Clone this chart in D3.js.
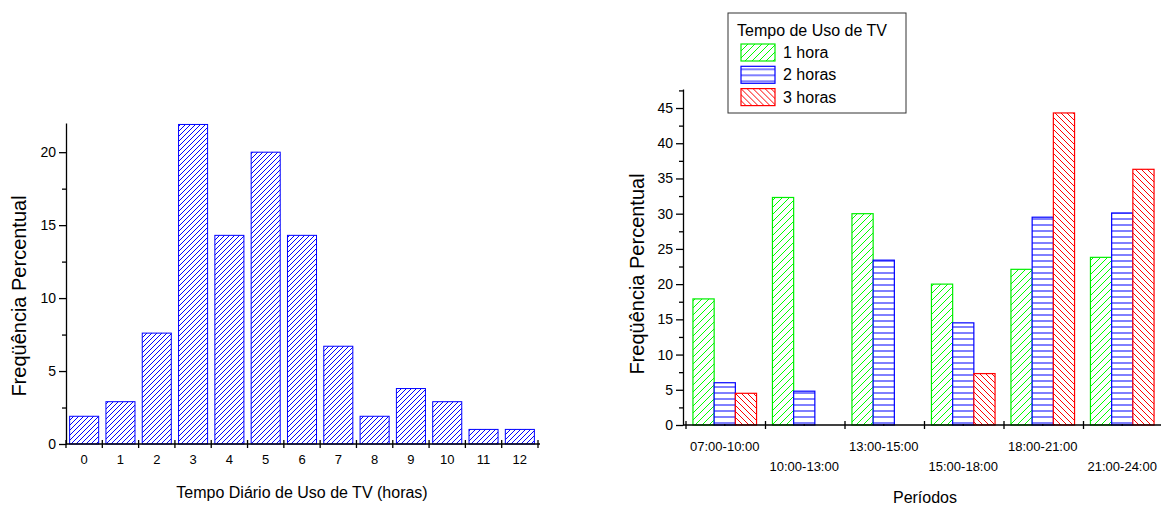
<!DOCTYPE html>
<html>
<head>
<meta charset="utf-8">
<script src="https://cdn.jsdelivr.net/npm/d3@7"></script>
<style>
  body { margin: 0; background: #fff; }
  text { font-family: "Liberation Sans", Arial, sans-serif; fill: #000; }
  .axis path, .axis line { stroke: #000; stroke-width: 1.3; }
</style>
</head>
<body>
<div id="chart"></div>
<script>
// left chart: daily TV hours histogram
var hourCats = ["0","1","2","3","4","5","6","7","8","9","10","11","12"];
var hourPct  = [1.9, 2.9, 7.6, 21.9, 14.3, 20.0, 14.3, 6.7, 1.9, 3.8, 2.9, 1.0, 1.0];
var leftTicks = [0, 5, 10, 15, 20];
var leftMinor = [2.5, 7.5, 12.5, 17.5];

// right chart: periods grouped by hours of use
var periods = ["07:00-10:00","10:00-13:00","13:00-15:00","15:00-18:00","18:00-21:00","21:00-24:00"];
var seriesNames = ["1 hora","2 horas","3 horas"];
var hora1 = [17.9, 32.3, 30.0, 20.0, 22.1, 23.8];
var hora2 = [6.0, 4.8, 23.4, 14.5, 29.5, 30.1];
var hora3 = [4.5, 0, 0, 7.3, 44.3, 36.3];
var rightTicks = [0, 5, 10, 15, 20, 25, 30, 35, 40, 45];
var rightMinor = [2.5, 7.5, 12.5, 17.5, 22.5, 27.5, 32.5, 37.5, 42.5, 47.5];

var W = 1161, H = 508;
var svg = d3.select("#chart").append("svg")
  .attr("width", W).attr("height", H);

// hatch patterns
var defs = svg.append("defs");
function hatch(id, color, size, d) {
  var p = defs.append("pattern")
    .attr("id", id)
    .attr("patternUnits", "userSpaceOnUse")
    .attr("width", size).attr("height", size);
  p.append("rect").attr("width", size).attr("height", size).attr("fill", "#fff");
  p.append("path").attr("d", d)
    .attr("stroke", color).attr("stroke-width", 1).attr("fill", "none");
}
hatch("h-blue", "#0000ff", 5, "M-1,1 l2,-2 M0,5 l5,-5 M4,6 l2,-2");
hatch("h-green", "#00ff00", 7, "M-1,1 l2,-2 M0,7 l7,-7 M6,8 l2,-2");
hatch("h-hor", "#0000ff", 6, "M0,3 h6");
hatch("h-red", "#ff0000", 6, "M-1,5 l2,2 M0,0 l6,6 M5,-1 l2,2");

var seriesColor = ["#00ee00", "#0000ff", "#ff0000"];
var seriesFill = ["url(#h-green)", "url(#h-hor)", "url(#h-red)"];

// ---------- left chart ----------
var xL = d3.scaleBand()
  .domain(hourCats)
  .range([66, 538])
  .paddingInner(0.2)
  .paddingOuter(0.1);

var yL = d3.scaleLinear()
  .domain([0, 22])
  .range([444, 123]);

svg.selectAll(".barL")
  .data(hourPct)
  .enter().append("rect")
  .attr("class", "barL")
  .attr("x", function(d, i) { return xL(hourCats[i]); })
  .attr("width", xL.bandwidth())
  .attr("y", function(d) { return yL(d); })
  .attr("height", function(d) { return yL(0) - yL(d); })
  .attr("fill", "url(#h-blue)")
  .attr("stroke", "#0000ff")
  .attr("stroke-width", 1);

svg.append("g")
  .attr("class", "axis")
  .attr("transform", "translate(66,0)")
  .call(d3.axisLeft(yL).tickValues(leftTicks).tickSize(7).tickSizeOuter(0).tickPadding(3))
  .selectAll("text").style("font-size", "14px");

svg.append("g")
  .attr("class", "axis")
  .attr("transform", "translate(66,0)")
  .call(d3.axisLeft(yL).tickValues(leftMinor).tickSize(4).tickSizeOuter(0).tickFormat(""))
  .select(".domain").remove();

var gxL = svg.append("g")
  .attr("class", "axis")
  .attr("transform", "translate(0,444)")
  .call(d3.axisBottom(xL).tickSize(0).tickSizeOuter(0).tickPadding(11));
gxL.selectAll("text").style("font-size", "13px");
gxL.select(".domain").attr("d", "M66,0H540");

// ticks between the bars
gxL.selectAll(".bound")
  .data(d3.range(hourCats.length + 1))
  .enter().append("line")
  .attr("class", "bound")
  .attr("x1", function(i) { return xL.range()[0] + i * xL.step(); })
  .attr("x2", function(i) { return xL.range()[0] + i * xL.step(); })
  .attr("y1", -4).attr("y2", 4);

svg.append("text")
  .attr("x", 302).attr("y", 498)
  .style("text-anchor", "middle")
  .style("font-size", "16px")
  .text("Tempo Diário de Uso de TV (horas)");

svg.append("text")
  .attr("transform", "translate(26,296) rotate(-90)")
  .style("text-anchor", "middle")
  .style("font-size", "20px")
  .text("Freqüência Percentual");

// ---------- right chart ----------
var xR = d3.scaleBand()
  .domain(periods)
  .range([685, 1162])
  .paddingInner(0.2)
  .paddingOuter(0.1);

var xS = d3.scaleBand()
  .domain(seriesNames)
  .range([0, xR.bandwidth()]);

var yR = d3.scaleLinear()
  .domain([0, 47.7])
  .range([425, 89]);

var rows = [];
[hora1, hora2, hora3].forEach(function(vals, s) {
  vals.forEach(function(v, i) {
    if (v > 0) rows.push({ period: periods[i], series: s, value: v });
  });
});

svg.selectAll(".barR")
  .data(rows)
  .enter().append("rect")
  .attr("class", "barR")
  .attr("x", function(d) { return xR(d.period) + xS(seriesNames[d.series]); })
  .attr("width", xS.bandwidth())
  .attr("y", function(d) { return yR(d.value); })
  .attr("height", function(d) { return yR(0) - yR(d.value); })
  .attr("fill", function(d) { return seriesFill[d.series]; })
  .attr("stroke", function(d) { return seriesColor[d.series]; })
  .attr("stroke-width", 1.2);

svg.append("g")
  .attr("class", "axis")
  .attr("transform", "translate(683,0)")
  .call(d3.axisLeft(yR).tickValues(rightTicks).tickSize(7).tickSizeOuter(0).tickPadding(3))
  .selectAll("text").style("font-size", "14px");

svg.append("g")
  .attr("class", "axis")
  .attr("transform", "translate(683,0)")
  .call(d3.axisLeft(yR).tickValues(rightMinor).tickSize(4).tickSizeOuter(0).tickFormat(""))
  .select(".domain").remove();

var gxR = svg.append("g")
  .attr("class", "axis")
  .attr("transform", "translate(0,425)")
  .call(d3.axisBottom(xR).tickSize(2).tickSizeOuter(0).tickPadding(15));
gxR.selectAll(".tick line").attr("y1", -1).attr("y2", 1);
gxR.selectAll("text")
  .style("font-size", "13px")
  .attr("dy", function(d, i) { return i % 2 ? "2.2em" : "0.71em"; });
gxR.select(".domain").attr("d", "M683,0H1161");

gxR.selectAll(".bound")
  .data(d3.range(periods.length))
  .enter().append("line")
  .attr("class", "bound")
  .attr("x1", function(i) { return xR.range()[0] + 1 + i * xR.step(); })
  .attr("x2", function(i) { return xR.range()[0] + 1 + i * xR.step(); })
  .attr("y1", -4).attr("y2", 4);

svg.append("text")
  .attr("x", 925).attr("y", 503)
  .style("text-anchor", "middle")
  .style("font-size", "16px")
  .text("Períodos");

svg.append("text")
  .attr("transform", "translate(644,274) rotate(-90)")
  .style("text-anchor", "middle")
  .style("font-size", "20px")
  .text("Freqüência Percentual");

// legend
var lg = svg.append("g").attr("transform", "translate(728,13)");
lg.append("rect")
  .attr("width", 178).attr("height", 100)
  .attr("fill", "#fff").attr("stroke", "#333").attr("stroke-width", 1);
lg.append("text")
  .attr("x", 9).attr("y", 23)
  .style("font-size", "16px")
  .text("Tempo de Uso de TV");
var item = lg.selectAll(".item")
  .data(seriesNames)
  .enter().append("g")
  .attr("class", "item")
  .attr("transform", function(d, i) { return "translate(13," + (31 + i * 22.3) + ")"; });
item.append("rect")
  .attr("width", 34).attr("height", 17)
  .attr("fill", function(d, i) { return seriesFill[i]; })
  .attr("stroke", function(d, i) { return seriesColor[i]; })
  .attr("stroke-width", 1.2);
item.append("text")
  .attr("x", 42).attr("y", 14)
  .style("font-size", "16px")
  .text(function(d) { return d; });
</script>
</body>
</html>
